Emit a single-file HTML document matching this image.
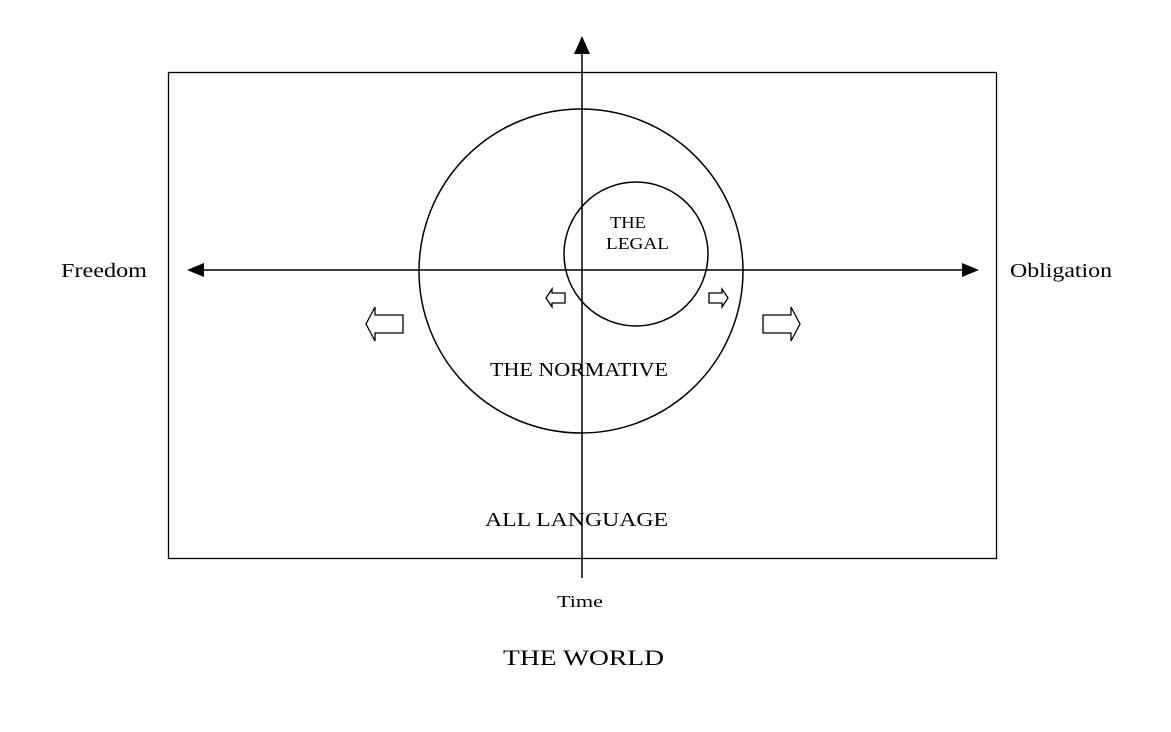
<!DOCTYPE html>
<html><head><style>body{margin:0;background:#fff}</style></head><body>
<svg width="1171" height="727" xmlns="http://www.w3.org/2000/svg" font-family="Liberation Serif, serif" fill="#000">
<rect x="168.5" y="72.5" width="828" height="486" fill="none" stroke="#000" stroke-width="1.3"/>
<circle cx="581" cy="271" r="162" fill="none" stroke="#000" stroke-width="1.5"/>
<circle cx="636" cy="254" r="72" fill="none" stroke="#000" stroke-width="1.5"/>
<line x1="582" y1="50" x2="582" y2="578" stroke="#000" stroke-width="1.5"/>
<polygon points="582,36 574,54 590,54"/>
<line x1="200" y1="270" x2="966" y2="270" stroke="#000" stroke-width="1.5"/>
<polygon points="187,270 204,263 204,277"/>
<polygon points="979,270 962,263 962,277"/>
<g fill="none" stroke="#000" stroke-width="1.3">
<polygon points="366,324 375,307 375,315 403,315 403,333 375,333 375,341"/>
<polygon points="800,324 791,307 791,315 763,315 763,333 791,333 791,341"/>
<polygon points="546,298 552,289 552,293 565,293 565,303 552,303 552,307"/>
<polygon points="728,298 722,289 722,293 709,293 709,303 722,303 722,307"/>
</g>
<text x="61" y="277" font-size="20" textLength="86" lengthAdjust="spacingAndGlyphs">Freedom</text>
<text x="1010" y="277" font-size="20" textLength="102" lengthAdjust="spacingAndGlyphs">Obligation</text>
<text x="490" y="376" font-size="20" textLength="178" lengthAdjust="spacingAndGlyphs">THE NORMATIVE</text>
<text x="485" y="526" font-size="20" textLength="183" lengthAdjust="spacingAndGlyphs">ALL LANGUAGE</text>
<text x="503" y="665" font-size="22" textLength="161" lengthAdjust="spacingAndGlyphs">THE WORLD</text>
<text x="610" y="228" font-size="17" textLength="36" lengthAdjust="spacingAndGlyphs">THE</text>
<text x="606" y="249" font-size="17" textLength="63" lengthAdjust="spacingAndGlyphs">LEGAL</text>
<text x="557" y="607" font-size="17" textLength="46" lengthAdjust="spacingAndGlyphs">Time</text>
</svg>
</body></html>
